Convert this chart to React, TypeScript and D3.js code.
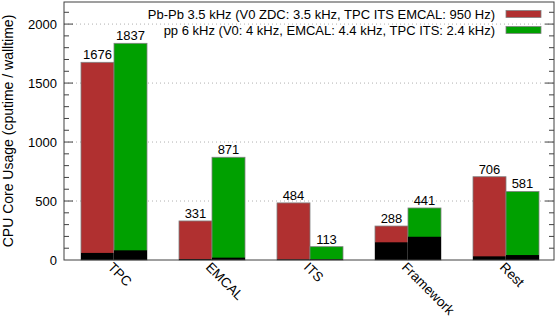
import * as d3 from "d3";
import * as React from "react";

const categories = ["TPC", "EMCAL", "ITS", "Framework", "Rest"];
const pbpbTotal = [1676, 331, 484, 288, 706];
const ppTotal = [1837, 871, 113, 441, 581];
// lower (black) part of each bar
const pbpbBase = [60, 8, 5, 150, 31];
const ppBase = [82, 20, 6, 197, 42];
const yTicks = [0, 500, 1000, 1500, 2000];
const seriesNames = [
  "Pb-Pb 3.5 kHz (V0 ZDC: 3.5 kHz, TPC ITS EMCAL: 950 Hz)",
  "pp 6 kHz (V0: 4 kHz, EMCAL: 4.4 kHz, TPC ITS: 2.4 kHz)",
];
const colors = ["#b03030", "#00a000"];

export default function App() {
  const ref = React.useRef<SVGSVGElement>(null);

  React.useEffect(() => {
    const width = 556;
    const height = 318;
    const margin = { top: 2, right: 2, bottom: 58, left: 64 };
    const font = "Liberation Sans, Arial, sans-serif";

    const svg = d3.select(ref.current);
    svg.selectAll("*").remove();

    const x = d3
      .scaleBand()
      .domain(categories)
      .range([margin.left, width - margin.right]);
    const y = d3
      .scaleLinear()
      .domain([0, 2200])
      .range([height - margin.bottom, margin.top - 1.5]);
    const barW = 33;

    // grid
    svg
      .append("g")
      .selectAll("line")
      .data(yTicks.slice(1))
      .join("line")
      .attr("x1", margin.left)
      .attr("x2", width - margin.right)
      .attr("y1", (d) => y(d))
      .attr("y2", (d) => y(d))
      .attr("stroke", "#b0b0b0")
      .attr("stroke-width", 1)
      .attr("stroke-dasharray", "1,3");

    const rows = categories.map((c, i) => ({
      c,
      vals: [
        { s: 0, total: pbpbTotal[i], base: pbpbBase[i] },
        { s: 1, total: ppTotal[i], base: ppBase[i] },
      ],
    }));

    const g = svg
      .append("g")
      .selectAll("g")
      .data(rows)
      .join("g")
      .attr("transform", (d) => `translate(${x(d.c)! + x.bandwidth() / 2 - barW + 1},0)`);

    const bar = g
      .selectAll("g")
      .data((d) => d.vals)
      .join("g")
      .attr("transform", (d) => `translate(${d.s * barW},0)`);

    bar
      .append("rect")
      .attr("x", 0)
      .attr("width", barW)
      .attr("y", (d) => y(d.total))
      .attr("height", (d) => y(0) - y(d.total))
      .attr("fill", (d) => colors[d.s])
      .attr("stroke", "#808080")
      .attr("stroke-width", 0.8);

    bar
      .append("rect")
      .attr("x", 0)
      .attr("width", barW)
      .attr("y", (d) => y(d.base))
      .attr("height", (d) => y(0) - y(d.base))
      .attr("fill", "#000");

    bar
      .append("text")
      .attr("x", barW / 2)
      .attr("y", (d) => y(d.total) - 3)
      .attr("text-anchor", "middle")
      .attr("font-family", font)
      .attr("font-size", 13)
      .attr("fill", "#000")
      .text((d) => d.total);

    // border
    svg
      .append("rect")
      .attr("x", margin.left)
      .attr("y", margin.top)
      .attr("width", width - margin.left - margin.right)
      .attr("height", y(0) - margin.top)
      .attr("fill", "none")
      .attr("stroke", "#404040")
      .attr("stroke-width", 1);

    // y ticks
    const minor = d3.range(100, 2200, 100);
    const tk = svg.append("g").attr("stroke", "#404040").attr("stroke-width", 1);
    minor.forEach((v) => {
      const len = v % 500 === 0 ? 9 : 5;
      tk.append("line")
        .attr("x1", margin.left)
        .attr("x2", margin.left + len)
        .attr("y1", y(v))
        .attr("y2", y(v));
      tk.append("line")
        .attr("x1", width - margin.right)
        .attr("x2", width - margin.right - len)
        .attr("y1", y(v))
        .attr("y2", y(v));
    });

    svg
      .append("g")
      .selectAll("text")
      .data(yTicks)
      .join("text")
      .attr("x", margin.left - 7)
      .attr("y", (d) => y(d) + 5)
      .attr("text-anchor", "end")
      .attr("font-family", font)
      .attr("font-size", 13)
      .text((d) => d);

    // x labels
    svg
      .append("g")
      .selectAll("text")
      .data(categories)
      .join("text")
      .attr(
        "transform",
        (d) => `translate(${x(d)! + x.bandwidth() / 2 - 6},${y(0) + 8}) rotate(45)`
      )
      .attr("text-anchor", "start")
      .attr("font-family", font)
      .attr("font-size", 13.5)
      .text((d) => d);

    // y title
    svg
      .append("text")
      .attr("transform", `translate(13,${(y(0) + margin.top) / 2}) rotate(-90)`)
      .attr("text-anchor", "middle")
      .attr("font-family", font)
      .attr("font-size", 14)
      .text("CPU Core Usage (cputime / walltime)");

    // legend
    const lg = svg
      .append("g")
      .selectAll("g")
      .data(seriesNames)
      .join("g")
      .attr("transform", (_, i) => `translate(0,${14 + i * 16})`);
    lg.append("text")
      .attr("x", 495)
      .attr("y", 5)
      .attr("text-anchor", "end")
      .attr("font-family", font)
      .attr("font-size", 13)
      .text((d) => d);
    lg.append("rect")
      .attr("x", 506)
      .attr("y", -3.5)
      .attr("width", 35)
      .attr("height", 7)
      .attr("fill", (_, i) => colors[i])
      .attr("stroke", "#808080")
      .attr("stroke-width", 0.8);
  }, []);

  return (
    <svg
      ref={ref}
      width={556}
      height={318}
      style={{ position: "absolute", left: 0, top: 0, background: "#fff" }}
    ></svg>
  );
}
